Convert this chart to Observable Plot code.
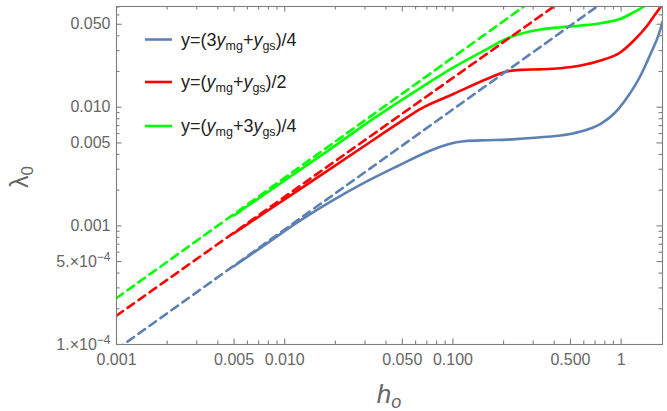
<!DOCTYPE html>
<html><head><meta charset="utf-8">
<script src="https://cdn.jsdelivr.net/npm/d3@7"></script>
<script src="https://cdn.jsdelivr.net/npm/@observablehq/plot@0.6"></script>
<style>
body{margin:0;background:#fff;overflow:hidden}
svg{font-family:"Liberation Sans", Arial, sans-serif}
</style>
</head><body><div id="chart"></div>
<script>
// ---- data (h_o, lambda_0) ----
const blueSolid = [
  [0.005,4.57e-4],[0.00752,6.82e-4],[0.01189,1.07e-3],[0.01875,1.60e-3],
  [0.02958,2.30e-3],[0.0467,3.18e-3],[0.0737,4.32e-3],[0.0927,4.85e-3],
  [0.1162,5.17e-3],[0.16,5.27e-3],[0.211,5.33e-3],[0.2526,5.42e-3],
  [0.3322,5.59e-3],[0.4368,5.77e-3],[0.5744,6.24e-3],[0.7553,7.24e-3],
  [0.9061,8.80e-3],[1.0887,0.01214],[1.306,0.0185],[1.497,0.0282],
  [1.678,0.04155],[1.762,0.0525]
];
const redSolid = [
  [0.005,8.67e-4],[0.00752,1.277e-3],[0.01189,1.97e-3],[0.01875,3.04e-3],
  [0.02958,4.69e-3],[0.0467,7.23e-3],[0.0643,9.69e-3],[0.1014,0.01297],
  [0.1602,0.01735],[0.201,0.01972],[0.2526,0.02065],[0.3322,0.02085],
  [0.4368,0.02132],[0.5744,0.02246],[0.7553,0.02474],[0.9932,0.02908],
  [1.191,0.03648],[1.432,0.04882],[1.604,0.06125],[1.718,0.0706],[1.762,0.0755]
];
const greenSolid = [
  [0.005,1.222e-3],[0.00752,1.828e-3],[0.01189,2.86e-3],[0.01875,4.46e-3],
  [0.0332,7.9e-3],[0.0643,0.01457],[0.1014,0.02173],[0.1602,0.03105],
  [0.201,0.03698],[0.2526,0.04156],[0.3322,0.04518],[0.4368,0.04722],
  [0.5744,0.04882],[0.7553,0.05105],[0.9932,0.05559],[1.191,0.06321],
  [1.366,0.0706],[1.45,0.075]
];
const blueDash  = [[0.001,9.08e-5],[0.8,0.0786]];
const redDash   = [[0.001,1.75e-4],[0.44,0.078]];
const greenDash = [[0.001,2.46e-4],[0.3,0.0802]];

const seriesColors = ["#5E81B5","#FF0000","#00FF00"];

const xLabelTicks = [0.001,0.005,0.01,0.05,0.1,0.5,1];
const xLabelText  = ["0.001","0.005","0.010","0.050","0.100","0.500","1"];
const yLabelTicks = [1e-4,5e-4,0.001,0.005,0.01,0.05];
const yLabelText  = ["1.×10^−4","5.×10^−4","0.001","0.005","0.010","0.050"];

const xDomain = [0.001,1.762];
const yDomain = [1e-4,0.0706];

// minor tick positions (every integer multiple in each decade)
function minorTicks(domain, majors){
  const out=[];
  for(let e=-5;e<=1;e++) for(let m=1;m<=9;m++){
    const v=+(m*Math.pow(10,e)).toPrecision(6);
    if(v>=domain[0]*0.9999 && v<=domain[1]*1.0001 && !majors.some(t=>Math.abs(t-v)/v<1e-6)) out.push(v);
  }
  return out;
}
const xMinor = minorTicks(xDomain, xLabelTicks);
const yMinor = minorTicks(yDomain, yLabelTicks);

const W=667,H=411,mL=116,mR=5,mT=6,mB=67;
const ph=H-mT-mB, pw=W-mL-mR;
const frameColor="#7f7f7f", labelColor="#666";
const MAJ=5.5, MIN=3.5;

const lineOpts = (c)=>({x:d=>d[0], y:d=>d[1], stroke:c, strokeWidth:2.6, curve:"monotone-x", clip:true});
const dashOpts = (c)=>({x:d=>d[0], y:d=>d[1], stroke:c, strokeWidth:2.6, strokeDasharray:"8,5.5", clip:true});
const tk = {stroke:frameColor, strokeWidth:1.1};

const svg = Plot.plot({
  width:W, height:H, marginLeft:mL, marginRight:mR, marginTop:mT, marginBottom:mB,
  x:{type:"log", domain:xDomain, axis:null},
  y:{type:"log", domain:yDomain, axis:null},
  style:{fontFamily:"Liberation Sans, Arial, sans-serif", background:"#fff"},
  marks:[
    Plot.line(blueSolid, lineOpts(seriesColors[0])),
    Plot.line(redSolid, lineOpts(seriesColors[1])),
    Plot.line(greenSolid, lineOpts(seriesColors[2])),
    Plot.line(blueDash, dashOpts(seriesColors[0])),
    Plot.line(redDash, dashOpts(seriesColors[1])),
    Plot.line(greenDash, dashOpts(seriesColors[2])),
    // inward frame ticks
    Plot.tickX(xLabelTicks,{x:d=>d, ...tk, insetTop:ph-MAJ}),
    Plot.tickX(xLabelTicks,{x:d=>d, ...tk, insetBottom:ph-MAJ}),
    Plot.tickX(xMinor,{x:d=>d, ...tk, insetTop:ph-MIN}),
    Plot.tickX(xMinor,{x:d=>d, ...tk, insetBottom:ph-MIN}),
    Plot.tickY(yLabelTicks,{y:d=>d, ...tk, insetRight:pw-MAJ}),
    Plot.tickY(yLabelTicks,{y:d=>d, ...tk, insetLeft:pw-MAJ}),
    Plot.tickY(yMinor,{y:d=>d, ...tk, insetRight:pw-MIN}),
    Plot.tickY(yMinor,{y:d=>d, ...tk, insetLeft:pw-MIN}),
    Plot.frame({stroke:frameColor, strokeWidth:1.1}),
    Plot.text(xLabelTicks, {x:d=>d, text:(d,i)=>xLabelText[i], frameAnchor:"bottom", lineAnchor:"top", dy:9, fontSize:16, fill:labelColor}),
    Plot.text(yLabelTicks, {y:d=>d, text:(d,i)=>yLabelText[i], frameAnchor:"left", textAnchor:"end", dx:-6, fontSize:16, fill:labelColor})
  ]
});

const S=d3.select(svg);

// superscripts in y tick labels
S.selectAll("text").each(function(){
  const t=this.textContent;
  if(t.includes("^")){
    const [base,exp]=t.split("^");
    const s=d3.select(this); s.text(null);
    s.append("tspan").text(base);
    s.append("tspan").attr("dy","-0.45em").attr("font-size","12px").text(exp);
  }
});

// legend
const legendItems = [
  [{t:"y=(3"},{t:"y",i:1},{t:"mg",sub:1},{t:"+"},{t:"y",i:1},{t:"gs",sub:1},{t:")/4"}],
  [{t:"y=("},{t:"y",i:1},{t:"mg",sub:1},{t:"+"},{t:"y",i:1},{t:"gs",sub:1},{t:")/2"}],
  [{t:"y=("},{t:"y",i:1},{t:"mg",sub:1},{t:"+3"},{t:"y",i:1},{t:"gs",sub:1},{t:")/4"}]
];
const legY=[39.5,82,126];
const lg=S.append("g").attr("aria-label","legend");
legendItems.forEach((parts,k)=>{
  lg.append("line").attr("x1",145).attr("x2",172).attr("y1",legY[k]).attr("y2",legY[k])
    .attr("stroke",seriesColors[k]).attr("stroke-width",2.6);
  const tx=lg.append("text").attr("x",181).attr("y",legY[k]+6).attr("font-size","18px")
    .attr("fill","#222").attr("text-anchor","start");
  let shifted=false;
  parts.forEach(p=>{
    const ts=tx.append("tspan").text(p.t);
    if(p.i) ts.attr("font-style","italic");
    if(p.sub){ ts.attr("font-size","12.5px"); if(!shifted){ts.attr("dy","4");shifted=true;} }
    else if(shifted){ ts.attr("dy","-4"); shifted=false; }
  });
});

// axis titles
const yt=S.append("text").attr("transform","translate(28,177) rotate(-90)")
  .attr("text-anchor","middle").attr("font-size","25px").attr("fill",labelColor);
yt.append("tspan").text("λ");
yt.append("tspan").attr("dy","5").attr("font-size","17px").text("0");

const xt=S.append("text").attr("x",389).attr("y",403)
  .attr("text-anchor","middle").attr("font-size","26px").attr("fill",labelColor).attr("font-style","italic");
xt.append("tspan").text("h");
xt.append("tspan").attr("dy","5").attr("font-size","18px").text("o");

document.getElementById("chart").appendChild(svg);
</script>
</body></html>
